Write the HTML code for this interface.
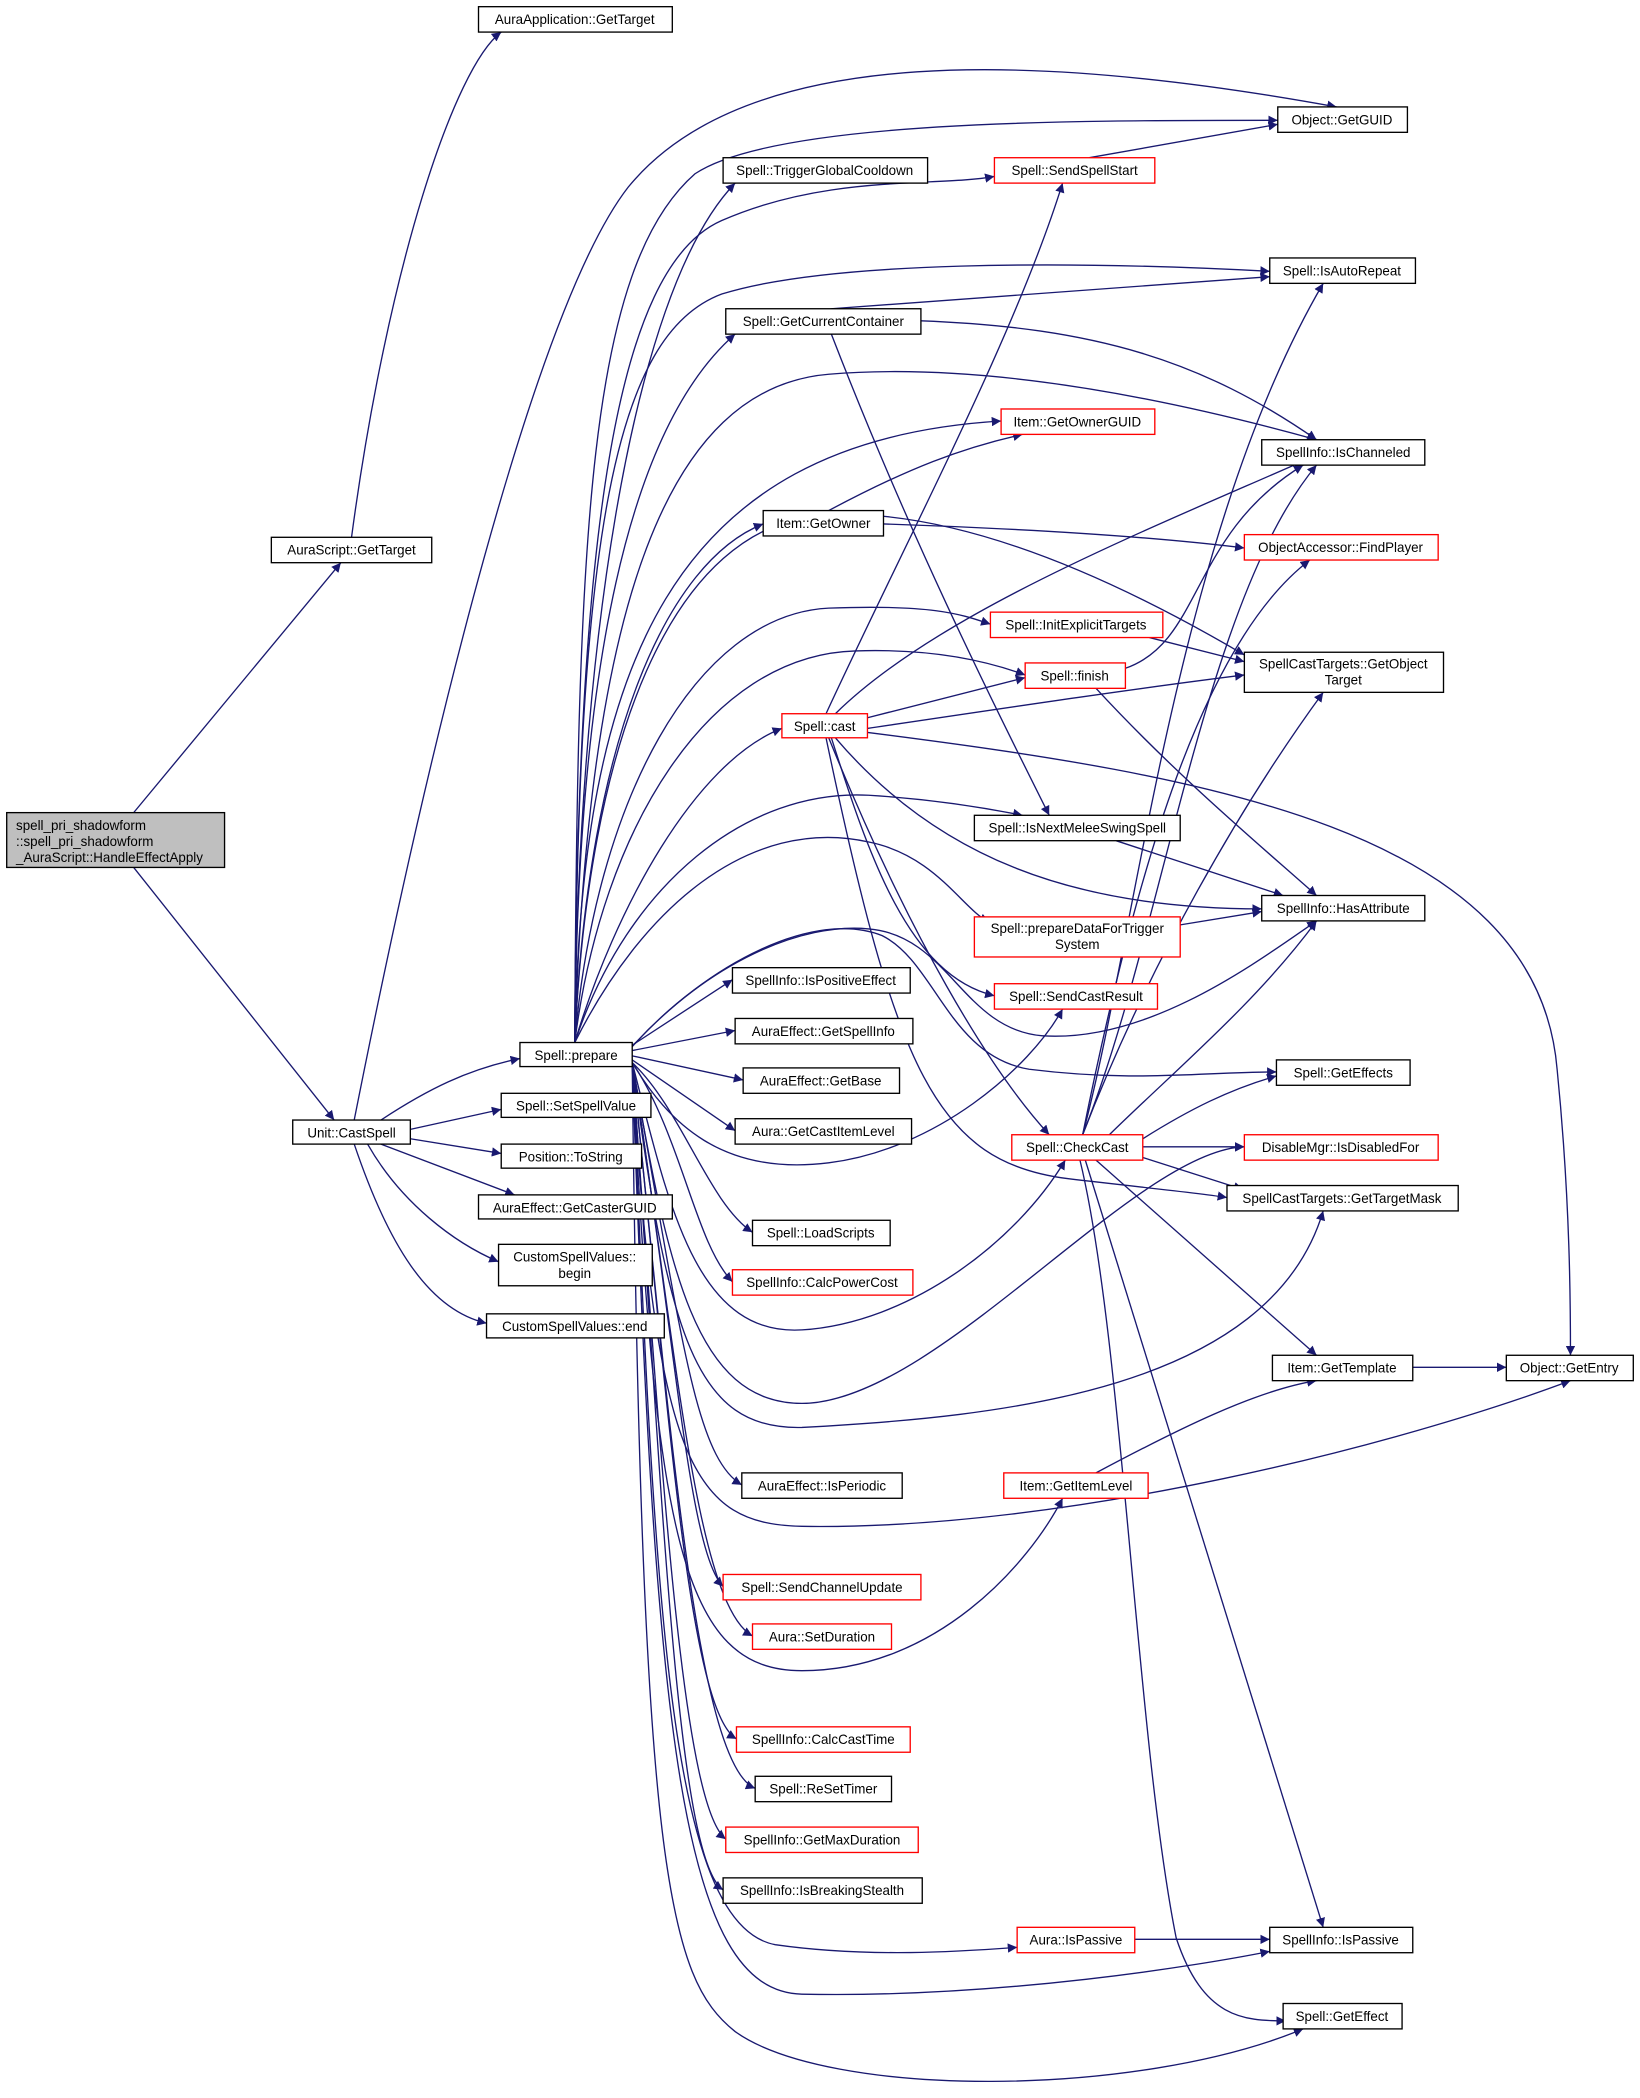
<!DOCTYPE html>
<html><head><meta charset="utf-8"><style>
html,body{margin:0;padding:0;background:#fff}
svg{display:block}
text{font-family:"Liberation Sans","DejaVu Sans",sans-serif;font-size:10px;fill:#000}
.e{fill:none;stroke:#191970;stroke-width:1}
.n{fill:#fff;stroke:#000;stroke-width:1}
.r{fill:#fff;stroke:#ff0000;stroke-width:1}
</style></head><body>
<svg width="1640" height="2098" viewBox="0 0 1227 1569.7" xmlns="http://www.w3.org/2000/svg">
<defs><marker id="a" viewBox="0 0 10 10" refX="10" refY="5" markerWidth="7" markerHeight="7" orient="auto" markerUnits="userSpaceOnUse"><path d="M0,0 L10,5 L0,10 z" fill="#191970"/></marker></defs>
<g marker-end="url(#a)">
<path class="e" d="M100,608 L255,421"/>
<path class="e" d="M100,649 L250,838"/>
<path class="e" d="M263,402 C290,200 340,50 375,24"/>
<path class="e" d="M265,838 C320,560 400,230 470,140 C560,30 780,40 1000,80"/>
<path class="e" d="M430,780 C432,400 440,200 520,130 C580,90 800,90 956,90"/>
<path class="e" d="M430,780 C432,500 470,220 550,137"/>
<path class="e" d="M430,780 C432,400 460,200 540,165 C620,130 700,140 744,132"/>
<path class="e" d="M430,780 C432,400 460,250 540,220 C620,195 800,195 950,203"/>
<path class="e" d="M430,780 C432,500 470,320 550,250"/>
<path class="e" d="M430,780 C440,450 500,290 620,280 C740,270 880,300 985,329"/>
<path class="e" d="M430,780 C435,500 500,330 749,315"/>
<path class="e" d="M430,780 C440,550 500,420 571,392"/>
<path class="e" d="M430,780 C440,560 500,390 620,385 C740,380 880,460 931,490"/>
<path class="e" d="M430,780 C445,600 520,460 620,455 C700,452 720,460 741,467"/>
<path class="e" d="M430,780 C450,620 530,490 640,487 C700,485 740,495 767,505"/>
<path class="e" d="M430,780 C460,680 520,570 585,545"/>
<path class="e" d="M430,780 C470,660 560,590 650,595 C700,598 740,605 765,610"/>
<path class="e" d="M430,780 C480,680 560,610 650,630 C700,640 720,680 740,690"/>
<path class="e" d="M473,783 C530,720 610,680 660,700 C700,720 710,790 770,800 C850,810 900,802 955,802"/>
<path class="e" d="M473,783 C530,720 600,690 650,695 C710,700 720,770 780,775 C860,780 940,720 985,689"/>
<path class="e" d="M473,782 L548,733"/>
<path class="e" d="M473,786 L550,771"/>
<path class="e" d="M473,790 L556,808"/>
<path class="e" d="M473,793 L550,846"/>
<path class="e" d="M473,795 C500,840 540,880 620,870 C700,860 770,800 795,755"/>
<path class="e" d="M473,795 C510,830 530,900 563,922"/>
<path class="e" d="M473,795 C510,850 520,930 548,959"/>
<path class="e" d="M473,795 C500,900 520,1000 600,995 C680,990 760,930 797,868"/>
<path class="e" d="M473,795 C500,950 520,1050 600,1050 C700,1050 850,860 931,858"/>
<path class="e" d="M473,795 C500,1000 520,1070 600,1068 C750,1060 950,1040 990,906"/>
<path class="e" d="M473,795 C490,1100 520,1140 600,1142 C800,1145 1050,1080 1175,1033"/>
<path class="e" d="M473,795 C510,1000 520,1090 555,1111"/>
<path class="e" d="M473,795 C490,1150 510,1250 600,1250 C700,1250 770,1170 795,1121"/>
<path class="e" d="M473,795 C505,1000 515,1160 541,1187"/>
<path class="e" d="M473,795 C505,1000 520,1200 563,1224"/>
<path class="e" d="M473,795 C500,1050 515,1280 551,1301"/>
<path class="e" d="M473,795 C500,1050 520,1320 565,1338"/>
<path class="e" d="M473,795 C495,1100 510,1350 543,1376"/>
<path class="e" d="M473,795 C495,1100 505,1390 541,1414"/>
<path class="e" d="M473,795 C490,1200 500,1440 580,1455 C650,1465 720,1460 761,1457"/>
<path class="e" d="M473,795 C490,1300 510,1490 600,1492 C750,1495 900,1470 950,1460"/>
<path class="e" d="M473,795 C480,1400 500,1480 550,1520 C620,1570 850,1570 975,1518"/>
<path class="e" d="M285,838 C320,815 350,800 389,792"/>
<path class="e" d="M307,845 L375,830"/>
<path class="e" d="M307,852 L375,863"/>
<path class="e" d="M285,856 L385,894"/>
<path class="e" d="M275,856 C300,900 340,930 373,944"/>
<path class="e" d="M265,856 C290,930 320,980 364,990"/>
<path class="e" d="M622,231 L950,207"/>
<path class="e" d="M689,240 C820,245 900,270 985,329"/>
<path class="e" d="M622,250 C680,400 740,520 785,610"/>
<path class="e" d="M815,118 L956,93"/>
<path class="e" d="M620,382 C680,350 720,335 765,325"/>
<path class="e" d="M661,392 C750,395 850,400 931,410"/>
<path class="e" d="M860,477 L931,495"/>
<path class="e" d="M842,500 C900,480 890,400 975,348"/>
<path class="e" d="M820,515 C880,580 940,630 985,670"/>
<path class="e" d="M618,534 C680,400 760,250 795,137"/>
<path class="e" d="M625,534 C700,460 850,400 975,345"/>
<path class="e" d="M649,537 L767,507"/>
<path class="e" d="M649,545 C750,530 850,515 931,505"/>
<path class="e" d="M649,548 C900,580 1150,620 1165,800 C1175,900 1175,980 1175,1014"/>
<path class="e" d="M625,552 C700,640 800,680 944,680"/>
<path class="e" d="M622,552 C650,640 680,730 744,745"/>
<path class="e" d="M620,552 C680,700 740,800 785,849"/>
<path class="e" d="M618,552 C670,800 700,870 800,882 C860,889 900,893 918,896"/>
<path class="e" d="M835,629 L960,670"/>
<path class="e" d="M883,692 L944,682"/>
<path class="e" d="M810,849 C850,700 880,400 990,212"/>
<path class="e" d="M810,849 C870,700 900,450 985,348"/>
<path class="e" d="M810,849 C850,650 900,480 980,419"/>
<path class="e" d="M810,849 C860,720 930,600 990,518"/>
<path class="e" d="M830,849 C880,800 940,750 985,689"/>
<path class="e" d="M855,852 C890,830 920,815 955,805"/>
<path class="e" d="M855,858 L931,858"/>
<path class="e" d="M855,866 L930,890"/>
<path class="e" d="M820,868 L985,1014"/>
<path class="e" d="M812,868 L990,1442"/>
<path class="e" d="M808,868 C840,1000 850,1300 880,1450 C900,1510 930,1512 962,1512"/>
<path class="e" d="M1057,1023 L1127,1023"/>
<path class="e" d="M820,1102 C880,1070 940,1040 985,1033"/>
<path class="e" d="M849,1451 L950,1451"/>
</g>
<rect x="5" y="608" width="163" height="41" fill="#bfbfbf" stroke="#000"/>
<text x="12" y="621">spell_pri_shadowform</text>
<text x="12" y="633">::spell_pri_shadowform</text>
<text x="12" y="645">_AuraScript::HandleEffectApply</text>
<g text-anchor="middle">
<rect class="n" x="358" y="5" width="145" height="19"/><text x="430" y="18">AuraApplication::GetTarget</text>
<rect class="n" x="203" y="402" width="120" height="19"/><text x="263" y="415">AuraScript::GetTarget</text>
<rect class="n" x="219" y="838" width="88" height="18"/><text x="263" y="851">Unit::CastSpell</text>
<rect class="n" x="389" y="780" width="84" height="18"/><text x="431" y="793">Spell::prepare</text>
<rect class="n" x="375" y="818" width="112" height="18"/><text x="431" y="831">Spell::SetSpellValue</text>
<rect class="n" x="375" y="856" width="105" height="18"/><text x="427" y="869">Position::ToString</text>
<rect class="n" x="358" y="894" width="145" height="18"/><text x="430" y="907">AuraEffect::GetCasterGUID</text>
<rect class="n" x="373" y="931" width="115" height="31"/><text x="430" y="944">CustomSpellValues::</text><text x="430" y="956">begin</text>
<rect class="n" x="364" y="983" width="133" height="18"/><text x="430" y="996">CustomSpellValues::end</text>
<rect class="n" x="956" y="80" width="97" height="19"/><text x="1004" y="93">Object::GetGUID</text>
<rect class="n" x="541" y="118" width="153" height="19"/><text x="617" y="131">Spell::TriggerGlobalCooldown</text>
<rect class="r" x="744" y="118" width="120" height="19"/><text x="804" y="131">Spell::SendSpellStart</text>
<rect class="n" x="950" y="193" width="109" height="19"/><text x="1004" y="206">Spell::IsAutoRepeat</text>
<rect class="n" x="543" y="231" width="146" height="19"/><text x="616" y="244">Spell::GetCurrentContainer</text>
<rect class="r" x="749" y="306" width="115" height="19"/><text x="806" y="319">Item::GetOwnerGUID</text>
<rect class="n" x="944" y="329" width="122" height="19"/><text x="1005" y="342">SpellInfo::IsChanneled</text>
<rect class="n" x="571" y="382" width="90" height="19"/><text x="616" y="395">Item::GetOwner</text>
<rect class="r" x="931" y="400" width="145" height="19"/><text x="1003" y="413">ObjectAccessor::FindPlayer</text>
<rect class="r" x="741" y="458" width="129" height="19"/><text x="805" y="471">Spell::InitExplicitTargets</text>
<rect class="r" x="767" y="496" width="75" height="19"/><text x="804" y="509">Spell::finish</text>
<rect class="n" x="931" y="488" width="149" height="30"/><text x="1005" y="500">SpellCastTargets::GetObject</text><text x="1005" y="512">Target</text>
<rect class="r" x="585" y="534" width="64" height="18"/><text x="617" y="547">Spell::cast</text>
<rect class="n" x="729" y="610" width="154" height="19"/><text x="806" y="623">Spell::IsNextMeleeSwingSpell</text>
<rect class="n" x="944" y="670" width="122" height="19"/><text x="1005" y="683">SpellInfo::HasAttribute</text>
<rect class="r" x="729" y="686" width="154" height="30"/><text x="806" y="698">Spell::prepareDataForTrigger</text><text x="806" y="710">System</text>
<rect class="n" x="548" y="724" width="133" height="19"/><text x="614" y="737">SpellInfo::IsPositiveEffect</text>
<rect class="r" x="744" y="736" width="122" height="19"/><text x="805" y="749">Spell::SendCastResult</text>
<rect class="n" x="550" y="762" width="133" height="19"/><text x="616" y="775">AuraEffect::GetSpellInfo</text>
<rect class="n" x="556" y="799" width="117" height="19"/><text x="614" y="812">AuraEffect::GetBase</text>
<rect class="n" x="550" y="837" width="132" height="19"/><text x="616" y="850">Aura::GetCastItemLevel</text>
<rect class="n" x="955" y="793" width="100" height="19"/><text x="1005" y="806">Spell::GetEffects</text>
<rect class="r" x="757" y="849" width="98" height="19"/><text x="806" y="862">Spell::CheckCast</text>
<rect class="r" x="931" y="849" width="145" height="19"/><text x="1003" y="862">DisableMgr::IsDisabledFor</text>
<rect class="n" x="918" y="887" width="173" height="19"/><text x="1004" y="900">SpellCastTargets::GetTargetMask</text>
<rect class="n" x="563" y="913" width="103" height="19"/><text x="614" y="926">Spell::LoadScripts</text>
<rect class="r" x="548" y="950" width="135" height="19"/><text x="615" y="963">SpellInfo::CalcPowerCost</text>
<rect class="n" x="952" y="1014" width="105" height="19"/><text x="1004" y="1027">Item::GetTemplate</text>
<rect class="n" x="1127" y="1014" width="95" height="19"/><text x="1174" y="1027">Object::GetEntry</text>
<rect class="n" x="555" y="1102" width="120" height="19"/><text x="615" y="1115">AuraEffect::IsPeriodic</text>
<rect class="r" x="751" y="1102" width="108" height="19"/><text x="805" y="1115">Item::GetItemLevel</text>
<rect class="r" x="541" y="1178" width="148" height="19"/><text x="615" y="1191">Spell::SendChannelUpdate</text>
<rect class="r" x="563" y="1215" width="104" height="19"/><text x="615" y="1228">Aura::SetDuration</text>
<rect class="r" x="551" y="1292" width="130" height="19"/><text x="616" y="1305">SpellInfo::CalcCastTime</text>
<rect class="n" x="565" y="1329" width="102" height="19"/><text x="616" y="1342">Spell::ReSetTimer</text>
<rect class="r" x="543" y="1367" width="144" height="19"/><text x="615" y="1380">SpellInfo::GetMaxDuration</text>
<rect class="n" x="541" y="1405" width="149" height="19"/><text x="615" y="1418">SpellInfo::IsBreakingStealth</text>
<rect class="r" x="761" y="1442" width="88" height="19"/><text x="805" y="1455">Aura::IsPassive</text>
<rect class="n" x="950" y="1442" width="107" height="19"/><text x="1003" y="1455">SpellInfo::IsPassive</text>
<rect class="n" x="960" y="1499" width="89" height="19"/><text x="1004" y="1512">Spell::GetEffect</text>
</g>
</svg>
</body></html>
